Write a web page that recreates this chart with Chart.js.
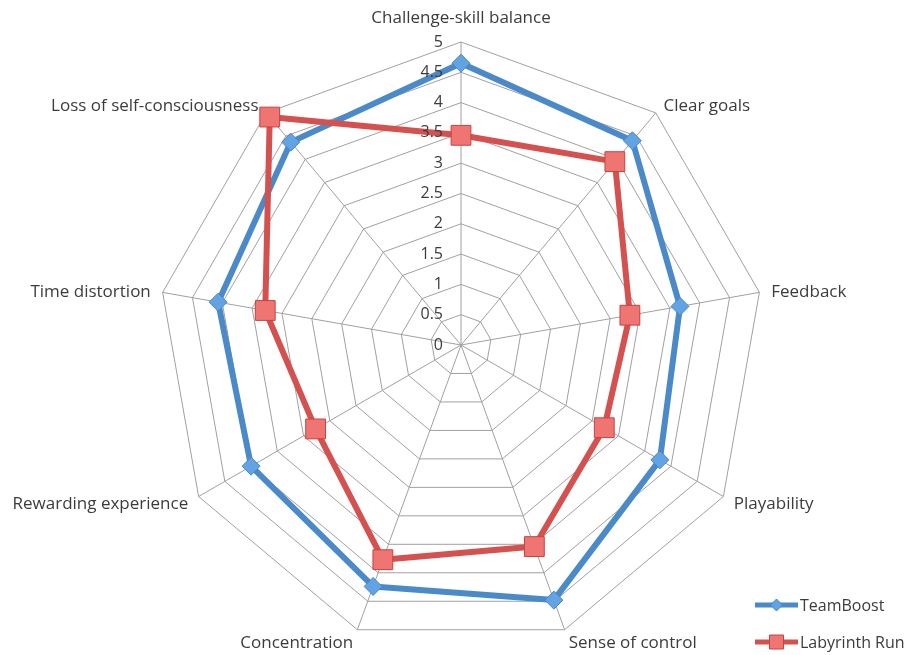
<!DOCTYPE html>
<html>
<head>
<meta charset="utf-8">
<script src="https://cdn.jsdelivr.net/npm/chart.js@4/dist/chart.umd.min.js"></script>
<style>
  html, body { margin: 0; padding: 0; background: #ffffff; }
  #wrap { width: 911px; height: 655px; position: relative; }
</style>
</head>
<body>
<div id="wrap"><canvas id="flow"></canvas></div>
<script>
// Flow dimensions rated on a 0–5 scale
const categories = [
  'Challenge-skill balance',
  'Clear goals',
  'Feedback',
  'Playability',
  'Sense of control',
  'Concentration',
  'Rewarding experience',
  'Time distortion',
  'Loss of self-consciousness'
];
const teamBoost    = [4.65, 4.40, 3.67, 3.79, 4.48, 4.24, 4.00, 4.07, 4.37];
const labyrinthRun = [3.46, 3.95, 2.83, 2.73, 3.54, 3.77, 2.77, 3.28, 4.91];
const seriesNames  = ['TeamBoost', 'Labyrinth Run'];
const scaleMin = 0, scaleMax = 5, scaleStep = 0.5;

const FONT = '"Open Sans", Lato, "Liberation Sans", sans-serif';
const LABEL_SIZE = 17;
const SMALL_SIZE = 16;
const TEXT = '#3c3c3c';

// Axis names, tick values and the legend are painted here so they can
// sit exactly where a spreadsheet-style radar puts them.
const radarText = {
  id: 'radarText',
  afterDraw(chart) {
    const ctx = chart.ctx;
    const r = chart.scales.r;
    ctx.save();
    ctx.fillStyle = TEXT;
    ctx.font = LABEL_SIZE + 'px ' + FONT;

    // category names around the outer ring
    chart.data.labels.forEach((label, i) => {
      const p = r.getPointPosition(i, r.drawingArea + 12);
      const deg = Math.round((r.getIndexAngle(i) * 180 / Math.PI) % 360);
      let align = 'center', y = p.y + 2;
      if (deg === 0) { y = p.y - 12; }
      else if (deg < 180) align = 'left';
      else if (deg > 180) align = 'right';
      ctx.textAlign = align;
      ctx.textBaseline = 'middle';
      ctx.fillText(label, p.x, y);
    });

    // value ticks up the vertical axis
    ctx.font = SMALL_SIZE + 'px ' + FONT;
    ctx.textAlign = 'right';
    ctx.textBaseline = 'middle';
    r.ticks.forEach(t => {
      const y = r.yCenter - r.getDistanceFromCenterForValue(t.value);
      ctx.fillText(String(+t.value.toFixed(1)), r.xCenter - 18, y);
    });

    // legend, bottom right
    chart.data.datasets.forEach((ds, i) => {
      const y = 605 + i * 37;
      const x0 = 755, x1 = 798, xm = (x0 + x1) / 2;
      ctx.strokeStyle = ds.borderColor;
      ctx.lineWidth = 5;
      ctx.beginPath(); ctx.moveTo(x0, y); ctx.lineTo(x1, y); ctx.stroke();
      ctx.fillStyle = ds.pointBackgroundColor;
      ctx.strokeStyle = ds.pointBorderColor;
      ctx.lineWidth = 1;
      ctx.beginPath();
      if (ds.pointStyle === 'rectRot') {
        const s = 6;
        ctx.moveTo(xm, y - s); ctx.lineTo(xm + s, y); ctx.lineTo(xm, y + s); ctx.lineTo(xm - s, y);
        ctx.closePath();
      } else {
        ctx.rect(xm - 7, y - 7, 14, 14);
      }
      ctx.fill(); ctx.stroke();
      ctx.fillStyle = TEXT;
      ctx.font = SMALL_SIZE + 'px ' + FONT;
      ctx.textAlign = 'left';
      ctx.textBaseline = 'middle';
      ctx.fillText(ds.label, x1 + 2, y + 1);
    });
    ctx.restore();
  }
};

new Chart(document.getElementById('flow'), {
  type: 'radar',
  data: {
    labels: categories,
    datasets: [
      {
        label: seriesNames[0],
        data: teamBoost,
        borderColor: '#4a8ac8',
        borderWidth: 6,
        fill: false,
        pointStyle: 'rectRot',
        pointRadius: 9,
        pointHoverRadius: 9,
        pointBackgroundColor: '#62a3e3',
        pointBorderColor: '#4a86c2',
        pointBorderWidth: 1,
        order: 2
      },
      {
        label: seriesNames[1],
        data: labyrinthRun,
        borderColor: '#d4514f',
        borderWidth: 6,
        fill: false,
        pointStyle: 'rect',
        pointRadius: 14,
        pointHoverRadius: 14,
        pointBackgroundColor: '#ef7572',
        pointBorderColor: '#c9423f',
        pointBorderWidth: 1,
        order: 1
      }
    ]
  },
  options: {
    responsive: true,
    maintainAspectRatio: false,
    animation: false,
    layout: { padding: { left: 155, right: 144, top: 42, bottom: 7 } },
    elements: { line: { tension: 0, borderJoinStyle: 'round' } },
    plugins: {
      legend: { display: false },
      tooltip: { enabled: false }
    },
    scales: {
      r: {
        min: scaleMin,
        max: scaleMax,
        ticks: { stepSize: scaleStep, display: false },
        grid: { circular: false, color: '#a0a0a0', lineWidth: 1 },
        angleLines: { color: '#a0a0a0', lineWidth: 1 },
        pointLabels: { display: false }
      }
    }
  },
  plugins: [radarText]
});
</script>
</body>
</html>
